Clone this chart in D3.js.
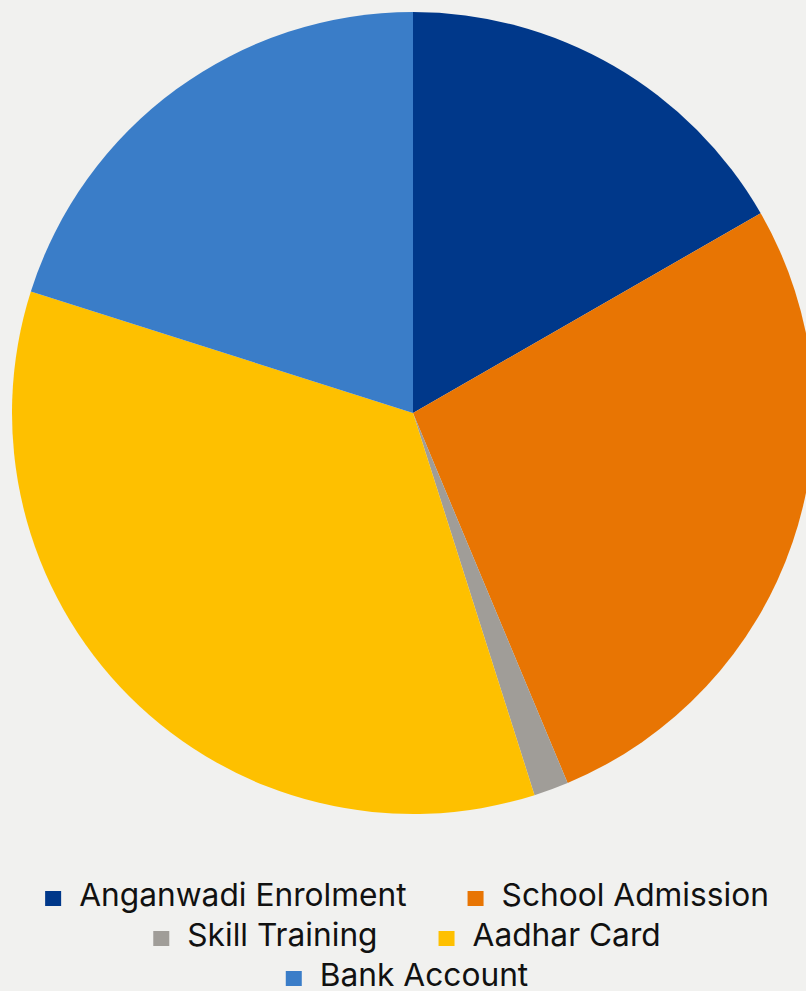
<!DOCTYPE html>
<html><head><meta charset="utf-8">
<script src="https://cdn.jsdelivr.net/npm/d3@7"></script>
<style>html,body{margin:0;padding:0;background:#F1F1EF;}svg{display:block;}</style>
</head><body>
<svg id="chart" width="806" height="991"></svg>
<script>
const categories = ["Anganwadi Enrolment", "School Admission", "Skill Training", "Aadhar Card", "Bank Account"];
const values = [16.7, 27.0, 1.4, 34.8, 20.1];
const colors = ["#00388A", "#E87503", "#A09D98", "#FEC000", "#3A7DC8"];
const legendRows = [[0, 1], [2, 3], [4]];

const svg = d3.select("#chart");
const cx = 413, cy = 413, r = 401;
const data = categories.map((c, i) => ({name: c, value: values[i], color: colors[i]}));
const pie = d3.pie().value(d => d.value).sort(null).startAngle(0).endAngle(2 * Math.PI);
const arc = d3.arc().innerRadius(0).outerRadius(r);
svg.append("g").attr("transform", `translate(${cx},${cy})`)
  .selectAll("path").data(pie(data)).join("path")
  .attr("d", arc).attr("fill", d => d.data.color);

const lg = svg.append("g").attr("font-family", "Inter, 'Noto Sans', sans-serif").attr("font-size", 31.7).attr("fill", "#111");
const sqW = 16, sqH = 15, gapT = 18, gapI = 61, centerX = 407;
legendRows.forEach((row, ri) => {
  const base = 906 + ri * 40;
  const g = lg.append("g");
  let x = 0;
  row.forEach(i => {
    g.append("rect").attr("x", x).attr("y", base - sqH).attr("width", sqW).attr("height", sqH).attr("fill", colors[i]);
    const t = g.append("text").attr("x", x + sqW + gapT).attr("y", base).text(categories[i]);
    const w = t.node().getComputedTextLength();
    x += sqW + gapT + w + gapI;
  });
  const total = x - gapI;
  g.attr("transform", `translate(${centerX - total / 2},0)`);
});
</script>
</body></html>
